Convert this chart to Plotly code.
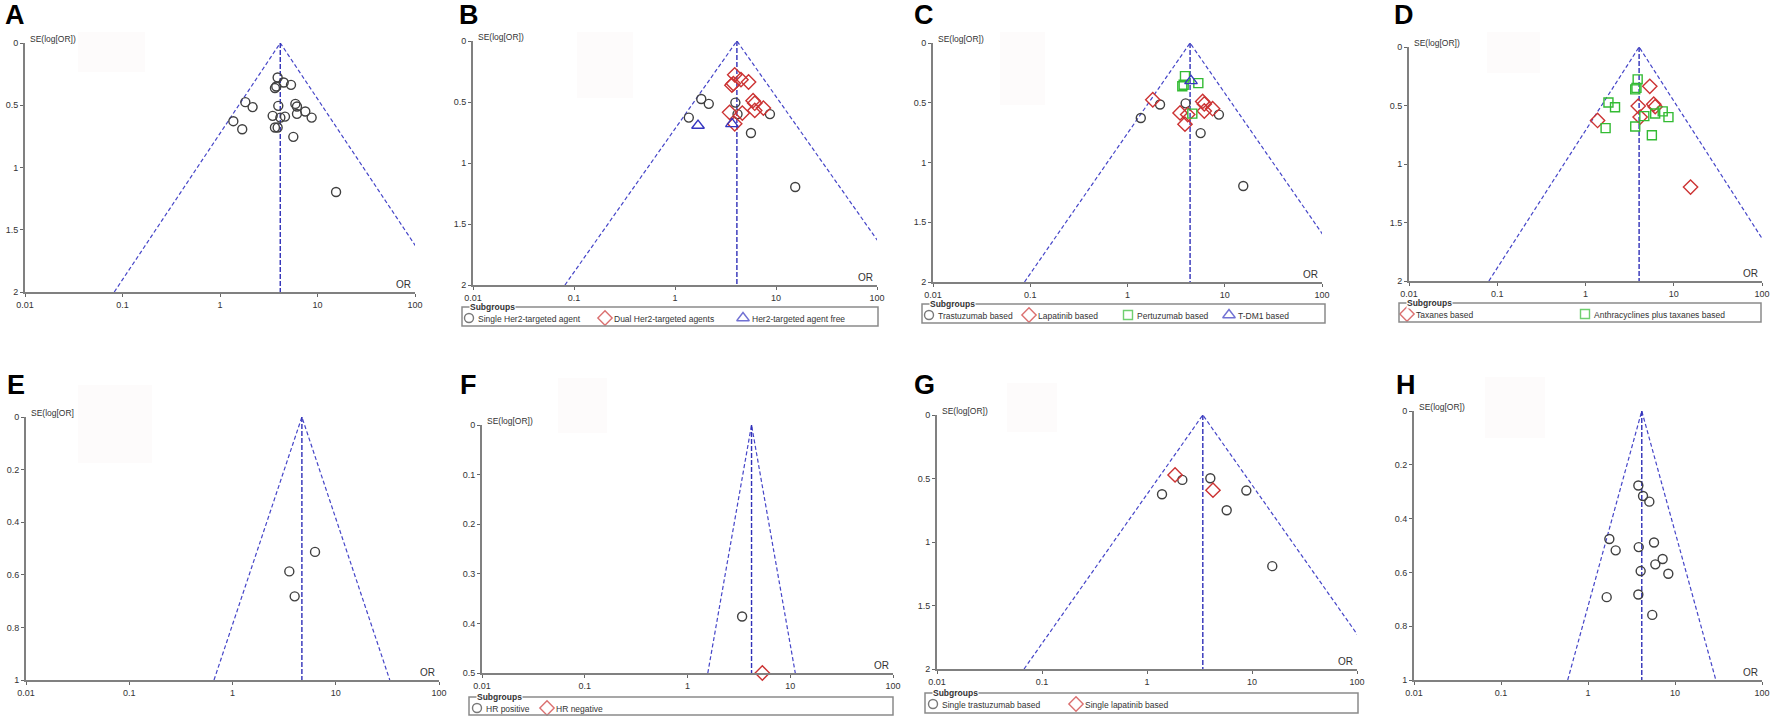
import math
import plotly.graph_objects as go

W, H = 1773, 716

# --- data -------------------------------------------------------------------
# the 22 studies of the overall funnel plot (A); B-D recolour the same studies
study_or = [3.90, 4.50, 5.35, 3.66, 3.78, 1.82, 2.16, 3.96, 5.93, 6.16, 7.50,
            6.16, 8.71, 3.47, 4.16, 4.64, 1.37, 1.69, 3.66, 3.90, 5.65, 15.5]
study_se = [0.277, 0.317, 0.336, 0.362, 0.349, 0.475, 0.515, 0.505, 0.489, 0.510, 0.550,
            0.569, 0.599, 0.585, 0.599, 0.591, 0.628, 0.693, 0.679, 0.679, 0.754, 1.197]

# B: Her2-targeted regimen (S single, D dual, F free)
b_group = ["D", "D", "D", "D", "D", "S", "S", "S", "D", "D", "D",
           "D", "S", "D", "S", "D", "S", "F", "F", "D", "S", "S"]
# C: agent (T trastuzumab, L lapatinib, P pertuzumab, K T-DM1, None = not in plot)
c_group = ["P", "K", "P", "P", "P", "L", "T", "T", "L", "L", "L",
           "L", "T", "L", "L", "P", "T", None, None, "L", "T", "T"]
# D: chemotherapy (X taxanes, A anthracyclines plus taxanes)
d_group = ["A", None, "X", "A", "A", "A", "A", "X", "X", "X", "A",
           "A", "A", None, "X", "A", "X", "A", "A", None, "A", "X"]

e_or = [6.3, 3.55, 4.0]
e_se = [0.513, 0.587, 0.682]

f_or = [3.4, 5.35]
f_se = [0.386, 0.5]
f_group = ["P", "N"]

g_or = [1.85, 2.17, 4.01, 4.25, 8.83, 1.39, 5.74, 15.6]
g_se = [0.472, 0.511, 0.498, 0.592, 0.595, 0.624, 0.75, 1.19]
g_group = ["L", "T", "T", "L", "T", "T", "T", "T"]

h_or = [3.79, 4.29, 5.07, 1.76, 2.08, 3.83, 5.74, 7.21, 5.94, 8.38, 4.03, 1.64, 3.79, 5.48]
h_se = [0.277, 0.316, 0.337, 0.476, 0.518, 0.506, 0.489, 0.550, 0.570, 0.605, 0.595,
        0.692, 0.682, 0.758]

pooled_or = {"A": 4.15, "B": 4.1, "C": 4.4, "D": 4.05, "E": 4.7, "F": 4.2, "G": 3.4, "H": 4.15}

x_ticks = [0.01, 0.1, 1, 10, 100]
x_tick_text = ["0.01", "0.1", "1", "10", "100"]

# --- styles -----------------------------------------------------------------
CIRCLE = dict(symbol="circle-open", size=9, color="#404040", line=dict(width=1.4))
DIAMOND = dict(symbol="diamond-open", size=11, color="#cc3333", line=dict(width=1.4))
SQUARE = dict(symbol="square-open", size=9, color="#33bb33", line=dict(width=1.4))
TRIANGLE = dict(symbol="triangle-up-open", size=11, color="#3535c0", line=dict(width=1.4))
FUNNEL = dict(color="#4545c8", width=1.2, dash="4px,2.5px")
MID_LINE = dict(color="#3030b8", width=1.4, dash="5px,2px")
TXT = dict(size=8.5, color="#333", family="Liberation Sans, Arial")

# panel: axis box in px (left, right, top, bottom), SE max, letter position, faint box
panels = {
    "A": dict(n=1, box=(25, 415, 43, 292), se_max=2, letter=(3, 15), title="SE(log[OR])",
              shade=(78, 145, 32, 72)),
    "B": dict(n=2, box=(473, 877, 41, 285), se_max=2, letter=(457, 15), title="SE(log[OR])",
              shade=(577, 633, 32, 98)),
    "C": dict(n=3, box=(933, 1322, 43, 282), se_max=2, letter=(912, 15), title="SE(log[OR])",
              shade=(1000, 1045, 32, 105)),
    "D": dict(n=4, box=(1409, 1762, 47, 281), se_max=2, letter=(1392, 15), title="SE(log[OR])",
              shade=(1487, 1540, 32, 73)),
    "E": dict(n=5, box=(26, 439, 417, 680), se_max=1, letter=(5, 385), title="SE(log[OR]",
              shade=(78, 152, 385, 463)),
    "F": dict(n=6, box=(482, 893, 425, 673), se_max=0.5, letter=(458, 385), title="SE(log[OR])",
              shade=(558, 607, 378, 433)),
    "G": dict(n=7, box=(937, 1357, 415, 669), se_max=2, letter=(912, 385), title="SE(log[OR])",
              shade=(1007, 1057, 383, 432)),
    "H": dict(n=8, box=(1414, 1762, 411, 680), se_max=1, letter=(1394, 385), title="SE(log[OR])",
              shade=(1485, 1545, 377, 438)),
}
y_ticks = {2: [0, 0.5, 1, 1.5, 2], 1: [0, 0.2, 0.4, 0.6, 0.8, 1], 0.5: [0, 0.1, 0.2, 0.3, 0.4, 0.5]}

# subgroup legend frames: left, right, top, bottom and (key x, marker, label)
legend_boxes = [
    (462, 878, 307, 326, [(469, CIRCLE, "Single Her2-targeted agent"),
                          (605, DIAMOND, "Dual Her2-targeted agents"),
                          (743, TRIANGLE, "Her2-targeted agent free")]),
    (922, 1325, 304, 323, [(929, CIRCLE, "Trastuzumab based"),
                           (1029, DIAMOND, "Lapatinib based"),
                           (1128, SQUARE, "Pertuzumab based"),
                           (1229, TRIANGLE, "T-DM1 based")]),
    (1399, 1761, 303, 322, [(1407, DIAMOND, "Taxanes based"),
                            (1585, SQUARE, "Anthracyclines plus taxanes based")]),
    (469, 893, 697, 715, [(477, CIRCLE, "HR positive"),
                          (547, DIAMOND, "HR negative")]),
    (925, 1358, 693, 713, [(933, CIRCLE, "Single trastuzumab based"),
                           (1076, DIAMOND, "Single lapatinib based")]),
]

fig = go.Figure()


def ax_names(n):
    return ("x", "y") if n == 1 else (f"x{n}", f"y{n}")


def add_funnel(key):
    p = panels[key]
    xa, ya = ax_names(p["n"])
    pooled = pooled_or[key]
    se_max = p["se_max"]
    lo = pooled * math.exp(-1.96 * se_max)
    hi = pooled * math.exp(1.96 * se_max)
    fig.add_trace(go.Scatter(x=[lo, pooled, hi], y=[se_max, 0, se_max], mode="lines",
                             line=FUNNEL, xaxis=xa, yaxis=ya, showlegend=False, hoverinfo="skip"))
    fig.add_trace(go.Scatter(x=[pooled, pooled], y=[0, se_max], mode="lines", line=MID_LINE,
                             xaxis=xa, yaxis=ya, showlegend=False, hoverinfo="skip"))


def add_points(key, ors, ses, groups, styles):
    xa, ya = ax_names(panels[key]["n"])
    for code, (name, marker) in styles.items():
        xs = [o for o, g in zip(ors, groups) if g == code]
        ys = [s for s, g in zip(ses, groups) if g == code]
        fig.add_trace(go.Scatter(x=xs, y=ys, mode="markers", name=name, marker=marker,
                                 xaxis=xa, yaxis=ya, cliponaxis=False, showlegend=False))


for key in panels:
    add_funnel(key)

add_points("A", study_or, study_se, ["all"] * len(study_or), {"all": ("Studies", CIRCLE)})
add_points("B", study_or, study_se, b_group, {
    "S": ("Single Her2-targeted agent", CIRCLE),
    "D": ("Dual Her2-targeted agents", DIAMOND),
    "F": ("Her2-targeted agent free", TRIANGLE)})
add_points("C", study_or, study_se, c_group, {
    "T": ("Trastuzumab based", CIRCLE),
    "L": ("Lapatinib based", DIAMOND),
    "P": ("Pertuzumab based", SQUARE),
    "K": ("T-DM1 based", TRIANGLE)})
add_points("D", study_or, study_se, d_group, {
    "X": ("Taxanes based", DIAMOND),
    "A": ("Anthracyclines plus taxanes based", SQUARE)})
add_points("E", e_or, e_se, ["all"] * len(e_or), {"all": ("Studies", CIRCLE)})
add_points("F", f_or, f_se, f_group, {
    "P": ("HR positive", CIRCLE),
    "N": ("HR negative", DIAMOND)})
add_points("G", g_or, g_se, g_group, {
    "T": ("Single trastuzumab based", CIRCLE),
    "L": ("Single lapatinib based", DIAMOND)})
add_points("H", h_or, h_se, ["all"] * len(h_or), {"all": ("Studies", CIRCLE)})

# --- axes, labels -------------------------------------------------------------
axis_common = dict(showline=True, linecolor="#808080", linewidth=2, ticks="outside",
                   ticklen=3, tickcolor="#666", tickfont=dict(size=9, color="#333"),
                   showgrid=False, zeroline=False, fixedrange=True)
annotations = []
shapes = []
for key, p in panels.items():
    n = p["n"]
    l, r, t, b = p["box"]
    suffix = "" if n == 1 else str(n)
    xa, ya = ax_names(n)
    fig.layout["xaxis" + suffix] = dict(type="log", range=[-2, 2], domain=[l / W, r / W],
                                       anchor=ya, tickvals=x_ticks, ticktext=x_tick_text,
                                       **axis_common)
    yt = y_ticks[p["se_max"]]
    fig.layout["yaxis" + suffix] = dict(range=[p["se_max"], 0], domain=[1 - b / H, 1 - t / H],
                                       anchor=xa, tickvals=yt, ticktext=[f"{v:g}" for v in yt],
                                       **axis_common)
    lx, ly = p["letter"]
    annotations.append(dict(text=f"<b>{key}</b>", x=lx / W, y=1 - ly / H, xref="paper",
                            yref="paper", xanchor="left", yanchor="middle", showarrow=False,
                            font=dict(size=27, color="black", family="Liberation Sans, Arial")))
    annotations.append(dict(text=p["title"], x=(l + 3) / W, y=1 - (t - 4) / H, xref="paper",
                            yref="paper", xanchor="left", yanchor="middle", showarrow=False,
                            font=TXT))
    annotations.append(dict(text="OR", x=(r - 2) / W, y=1 - (b - 8) / H, xref="paper",
                            yref="paper", xanchor="right", yanchor="middle", showarrow=False,
                            font=dict(size=10, color="#333")))
    sx0, sx1, sy0, sy1 = p["shade"]
    shapes.append(dict(type="rect", xref="paper", yref="paper", x0=sx0 / W, x1=sx1 / W,
                       y0=1 - sy1 / H, y1=1 - sy0 / H, line=dict(width=0),
                       fillcolor="rgba(235,210,210,0.09)", layer="below"))

# legends: frame + title as shapes/annotations, keys on a pixel overlay axis
key_x, key_y, key_sym, key_col, key_size = [], [], [], [], []
for l, r, t, b, items in legend_boxes:
    shapes.append(dict(type="rect", xref="paper", yref="paper", x0=l / W, x1=r / W,
                       y0=1 - b / H, y1=1 - t / H, line=dict(color="#8a8a8a", width=1.5),
                       fillcolor="rgba(0,0,0,0)"))
    annotations.append(dict(text="<b>Subgroups</b>", x=(l + 7) / W, y=1 - t / H, xref="paper",
                            yref="paper", xanchor="left", yanchor="middle", showarrow=False,
                            bgcolor="white", borderpad=0, font=TXT))
    iy = t + 11
    for sx, marker, label in items:
        key_x.append(sx)
        key_y.append(iy)
        key_sym.append(marker["symbol"])
        key_col.append(marker["color"])
        key_size.append(marker["size"])
        annotations.append(dict(text=label, x=(sx + 7) / W, y=1 - (iy + 1) / H, xref="paper",
                                yref="paper", xanchor="left", yanchor="middle", showarrow=False,
                                font=TXT))

fig.add_trace(go.Scatter(x=key_x, y=key_y, mode="markers", xaxis="x9", yaxis="y9",
                         marker=dict(symbol=key_sym, color=key_col, size=key_size,
                                     line=dict(width=1.4)),
                         cliponaxis=False, showlegend=False, hoverinfo="skip"))
fig.layout["xaxis9"] = dict(domain=[0, 1], range=[0, W], visible=False, fixedrange=True,
                            anchor="y9")
fig.layout["yaxis9"] = dict(domain=[0, 1], range=[H, 0], visible=False, fixedrange=True,
                            anchor="x9")

fig.update_layout(width=W, height=H, margin=dict(l=0, r=0, t=0, b=0, autoexpand=False),
                  paper_bgcolor="white", plot_bgcolor="rgba(0,0,0,0)", showlegend=False,
                  font=dict(family="Liberation Sans, Arial, sans-serif", color="#333"),
                  annotations=annotations, shapes=shapes)

# the page's default body margin would push the fixed-size figure past the window
fig.write_html("out.html", config={"displayModeBar": False}, post_script=(
    "document.body.style.margin='0';"
    "document.body.style.overflow='hidden';"
    "document.documentElement.style.overflow='hidden';"))
